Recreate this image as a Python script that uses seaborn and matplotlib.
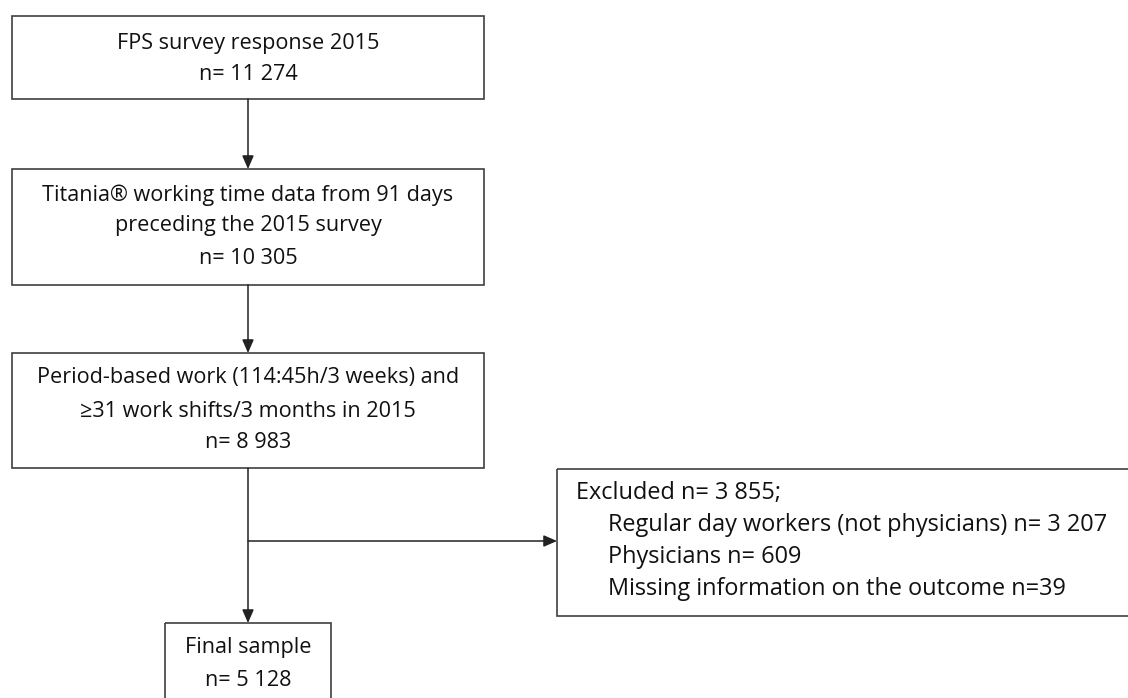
import matplotlib
matplotlib.use("Agg")
import matplotlib.pyplot as plt
import matplotlib.patches as mpatches
import seaborn as sns

# ---- content ----
box_texts = [
    ["FPS survey response 2015", "n= 11 274"],
    ["Titania\u00ae working time data from 91 days", "preceding the 2015 survey", "n= 10 305"],
    ["Period-based work (114:45h/3 weeks) and", "\u226531 work shifts/3 months in 2015", "n= 8 983"],
    ["Final sample", "n= 5 128"],
]
excluded_title = "Excluded n= 3 855;"
excluded_items = [
    "Regular day workers (not physicians) n= 3 207",
    "Physicians n= 609",
    "Missing information on the outcome n=39",
]

# ---- layout (pixels) ----
boxes = [  # x0, y0, x1, y1
    (12, 16, 484, 99),
    (12, 169, 484, 285),
    (12, 353, 484, 468),
    (165, 623, 331, 720),
]
line_y = [
    [44, 75],
    [195, 226, 258],
    [378, 411, 443],
    [647, 680],
]
excl_box = (557, 469, 1140, 616)
excl_y = [493, 525, 557, 589]

sns.set_style("white")
plt.rcParams['font.family'] = ['Open Sans', 'DejaVu Sans']

fig = plt.figure(figsize=(11.28, 6.98), dpi=100)
ax = fig.add_axes([0, 0, 1, 1])
ax.set_xlim(0, 1128)
ax.set_ylim(698, 0)
ax.axis("off")

edge = "#3f3f3f"
tc = "#111111"
fs = 15.6
fs_ex = 16.9

for (x0, y0, x1, y1), lines, ys in zip(boxes, box_texts, line_y):
    ax.add_patch(mpatches.Rectangle((x0, y0), x1 - x0, y1 - y0, fill=False,
                                    edgecolor=edge, linewidth=1.2))
    cx = (x0 + x1) / 2
    for t, y in zip(lines, ys):
        ax.text(cx, y, t, ha="center", va="center", fontsize=fs, color=tc)

x0, y0, x1, y1 = excl_box
ax.add_patch(mpatches.Rectangle((x0, y0), x1 - x0, y1 - y0, fill=False,
                                edgecolor=edge, linewidth=1.2, clip_on=True))
ax.text(576, excl_y[0], excluded_title, ha="left", va="center", fontsize=fs_ex, color=tc)
for t, y in zip(excluded_items, excl_y[1:]):
    ax.text(608, y, t, ha="left", va="center", fontsize=fs_ex, color=tc)

cx = 248
arrow_kw = dict(arrowstyle="-|>,head_length=0.8,head_width=0.35", color="#222222", lw=1.1,
                shrinkA=0, shrinkB=0)
# vertical arrows
for (a, b) in [(boxes[0], boxes[1]), (boxes[1], boxes[2]), (boxes[2], boxes[3])]:
    ax.annotate("", xy=(cx, b[1]), xytext=(cx, a[3]), arrowprops=arrow_kw)
# side arrow
ax.annotate("", xy=(557, 541), xytext=(cx, 541), arrowprops=arrow_kw)

fig.savefig("out.png", dpi=100, facecolor="white")
